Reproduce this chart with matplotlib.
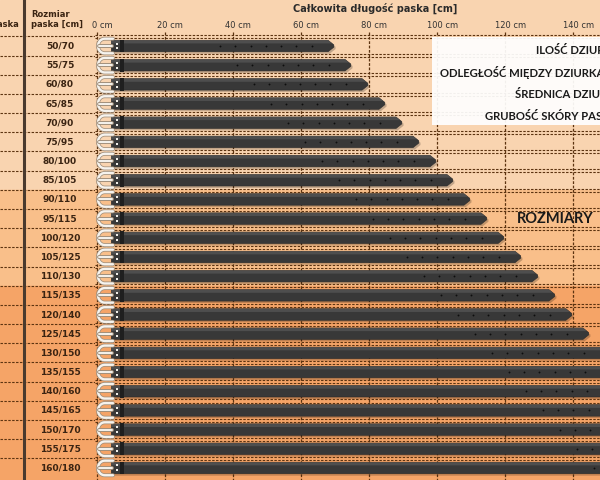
import numpy as np
import matplotlib
matplotlib.use("Agg")
import matplotlib.pyplot as plt
from matplotlib.patches import Polygon, Rectangle
import matplotlib.patheffects as pe

# sizes: waist range / total belt length [cm]
sizes = ["50/70", "55/75", "60/80", "65/85", "70/90", "75/95", "80/100", "85/105",
         "90/110", "95/115", "100/120", "105/125", "110/130", "115/135", "120/140",
         "125/145", "130/150", "135/155", "140/160", "145/165", "150/170", "155/175",
         "160/180"]
total_len = [70, 75, 80, 85, 90, 95, 100, 105, 110, 115, 120, 125, 130, 135, 140,
             145, 150, 155, 160, 165, 170, 175, 180]
x_ticks = [0, 20, 40, 60, 80, 100, 120, 140]
band_ends = [7.5, 12.5]  # colour bands change after 85/105 and 110/130
box_lines = ["ILOŚĆ DZIUREK:", "ODLEGŁOŚĆ MIĘDZY DZIURKAMI:", "ŚREDNICA DZIURKI:",
             "GRUBOŚĆ SKÓRY PASKA:"]
n_holes = 7
hole_step = 4.5
hole_end = 6.8

# layout (pixel based, 600x480)
W, H = 600, 480
PX_CM = 3.398
X0 = 97
ROW0 = 46
ROW_H = 19.18
ylim = ((H - ROW0) / ROW_H, -ROW0 / ROW_H)

c_light = "#f9d4b0"
c_mid = "#f9bf8a"
c_dark = "#f5a467"
c_line = "#5c3310"
c_text = "#3b2412"

fig = plt.figure(figsize=(6, 4.8), dpi=100)
tab = fig.add_axes([0, 0, 95 / W, 1])
ax = fig.add_axes([95 / W, 0, 505 / W, 1])

tab.set_xlim(0, 95)
ax.set_xlim(-(X0 - 95) / PX_CM, (W - X0) / PX_CM)
for a in (tab, ax):
    a.set_ylim(*ylim)
    a.axis("off")
    a.axhspan(ylim[1], band_ends[0], color=c_light, zorder=0)
    a.axhspan(band_ends[0], band_ends[1], color=c_mid, zorder=0)
    a.axhspan(band_ends[1], ylim[0], color=c_dark, zorder=0)

n = len(sizes)
bounds = np.arange(n) - 0.5
dash = (0, (2.2, 1.3))

# table part
tab.hlines(bounds, 0, 95, colors=c_line, lw=0.8, linestyles=dash, zorder=1)
tab.axvline(24, color="#4a3a2e", lw=2.2, zorder=2)
for i, s in enumerate(sizes):
    tab.text(60, i, s, ha="center", va="center", fontsize=6.5, fontweight="bold", color=c_text)
tab.text(31, -1.62, "Rozmiar", ha="left", va="center", fontsize=6, fontweight="bold", color=c_text)
tab.text(31, -1.13, "paska [cm]", ha="left", va="center", fontsize=6, fontweight="bold", color=c_text)
tab.text(19, -1.13, "paska", ha="right", va="center", fontsize=6, fontweight="bold", color=c_text)

# plot grid
ax.hlines(bounds - 0.07, ax.get_xlim()[0], ax.get_xlim()[1], colors=c_line, lw=0.8,
          linestyles=dash, zorder=1)
ax.hlines(bounds + 0.09, ax.get_xlim()[0], ax.get_xlim()[1], colors=c_line, lw=0.8,
          linestyles=dash, zorder=1)
ax.vlines(x_ticks, -0.75, ylim[0], colors=c_line, lw=0.9, linestyles=dash, zorder=1)
for t in x_ticks:
    ax.text(t + 1.6, -1.05, f"{t} cm", ha="center", va="center", fontsize=6, color="#333333")
ax.text(81.8, -1.98, "Całkowita długość paska [cm]", ha="center", va="center",
        fontsize=7, fontweight="bold", color="#2b2b2b")


def draw_belt(y, length):
    h = 0.3
    x0 = 4.2
    tip = 2.0
    body = [(x0, y - h), (length - tip, y - h), (length - 0.3, y - 0.06),
            (length - 0.3, y + 0.06), (length - tip, y + h), (x0, y + h)]
    shadow = [(px + 0.5, py + 0.1) for px, py in body]
    ax.add_patch(Polygon(shadow, closed=True, fc="black", ec="none", alpha=0.22, zorder=2))
    ax.add_patch(Polygon(body, closed=True, fc="#383838", ec="#2a2a2a", lw=0.4, zorder=3))
    top = [(x0, y - h), (length - tip, y - h), (length - tip * 0.45, y - h * 0.45),
           (x0, y - h * 0.45)]
    ax.add_patch(Polygon(top, closed=True, fc="#5e5e5e", ec="none", alpha=0.6, zorder=3))
    # holes
    hx = length - hole_end - hole_step * np.arange(n_holes)
    ax.scatter(hx, np.full(n_holes, y), s=1.8, c="#0d0d0d", zorder=4, lw=0)
    # keeper loop
    ax.add_patch(Rectangle((6.8, y - h - 0.03), 1.1, 2 * h + 0.06, fc="#1f1f1f", ec="none", zorder=4))
    # buckle pins
    ax.scatter([5.9, 5.9], [y - 0.13, y + 0.13], s=2.5, marker="s", c="#f2efe9", zorder=5, lw=0)
    # buckle frame
    r = 0.38
    rx = 2.0
    th = np.linspace(np.pi / 2, 3 * np.pi / 2, 30)
    arc_x = 2.3 + rx * np.cos(th)
    arc_y = y - r * np.sin(th)
    bx = np.concatenate([[4.7], arc_x, [4.7]])
    by = np.concatenate([[y - r], arc_y, [y + r]])
    stroke = [pe.withStroke(linewidth=2.8, foreground="#a08f7c")]
    ax.plot(bx, by, color="#f6f3ee", lw=1.7, solid_capstyle="round", zorder=5, path_effects=stroke)
    ax.plot([0.6, 4.5], [y, y], color="#f6f3ee", lw=1.4, solid_capstyle="round", zorder=5,
            path_effects=stroke)


for i, L in enumerate(total_len):
    draw_belt(i, L)

# info box
ax.add_patch(Rectangle(((432 - X0) / PX_CM, -0.47), 80, 4.6, fc="white", ec="none",
                       alpha=0.93, zorder=6))
for k, txt in enumerate(box_lines):
    ax.text((621 - X0) / PX_CM, [0.21, 1.36, 2.55, 3.65][k], txt, ha="right", va="center",
            fontsize=8.1, fontweight="bold", family="Lato", color="#1a1a1a", zorder=7,
            clip_on=False)
ax.text((517 - X0) / PX_CM, 9.0, "ROZMIARY", ha="left", va="center", fontsize=10.5,
        fontweight="bold", family="Lato", color="#1a1a1a", zorder=7)

fig.savefig("out.png", dpi=100)
